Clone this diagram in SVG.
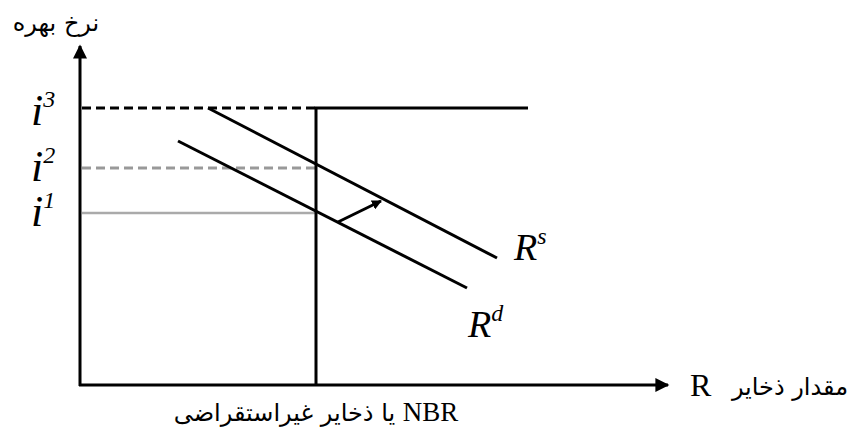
<svg xmlns="http://www.w3.org/2000/svg" width="851" height="435" viewBox="0 0 851 435">
<defs>
<marker id="ah" viewBox="0 0 10 10" refX="9" refY="5" markerWidth="10" markerHeight="10" markerUnits="userSpaceOnUse" orient="auto"><path d="M0,0 L10,5 L0,10 z" fill="#000"/></marker>
<marker id="ahb" viewBox="0 0 10 10" refX="9" refY="5" markerWidth="16" markerHeight="14" markerUnits="userSpaceOnUse" orient="auto"><path d="M0,0 L10,5 L0,10 z" fill="#000"/></marker>
</defs>
<style>
.ax{stroke:#000;stroke-width:3;fill:none}
.ln{stroke:#000;stroke-width:3;fill:none}
.lab{font-family:"Liberation Serif","Times New Roman",serif;font-style:italic;fill:#000}
.fa{font-family:"DejaVu Sans","Noto Sans",sans-serif;fill:#000}
.rm{font-family:"Liberation Serif","Times New Roman",serif;fill:#000}
</style>
<g id="connectors">
<line class="ax" x1="80" y1="386" x2="80" y2="46" marker-end="url(#ahb)"/>
<line class="ax" x1="79" y1="385" x2="668" y2="385" marker-end="url(#ahb)"/>
<line x1="82" y1="108" x2="316" y2="108" stroke="#000" stroke-width="3" stroke-dasharray="9,5"/>
<line x1="82" y1="168" x2="316" y2="168" stroke="#999" stroke-width="3" stroke-dasharray="9,5"/>
<line x1="82" y1="213" x2="316" y2="213" stroke="#aaa" stroke-width="2.5"/>
<polyline class="ln" points="316,385 316,108 528,108"/>
<line class="ln" x1="208" y1="108" x2="497" y2="258"/>
<line class="ln" x1="178" y1="141" x2="467" y2="288"/>
<line x1="338" y1="222" x2="381" y2="201" stroke="#000" stroke-width="3" marker-end="url(#ah)"/>
</g>
<g id="labels">
<text class="lab" x="31" y="125" font-size="44">i<tspan font-size="24" dy="-18">3</tspan></text>
<text class="lab" x="31" y="181" font-size="44">i<tspan font-size="24" dy="-18">2</tspan></text>
<text class="lab" x="31" y="226" font-size="44">i<tspan font-size="24" dy="-18">1</tspan></text>
<text class="lab" x="514" y="260" font-size="38">R<tspan font-size="24" dy="-16">s</tspan></text>
<text class="lab" x="468" y="337" font-size="38">R<tspan font-size="24" dy="-16">d</tspan></text>
<text class="fa" x="56" y="31" font-size="24" text-anchor="middle">نرخ بهره</text>
<text class="rm" x="690" y="396" font-size="32">R</text>
<text class="fa" x="790" y="395" font-size="24" text-anchor="middle">مقدار ذخایر</text>
<text class="fa" x="316" y="421" font-size="24" text-anchor="middle">یا ذخایر غیراستقراضی <tspan class="rm" font-size="27">NBR</tspan></text>
</g>
</svg>
